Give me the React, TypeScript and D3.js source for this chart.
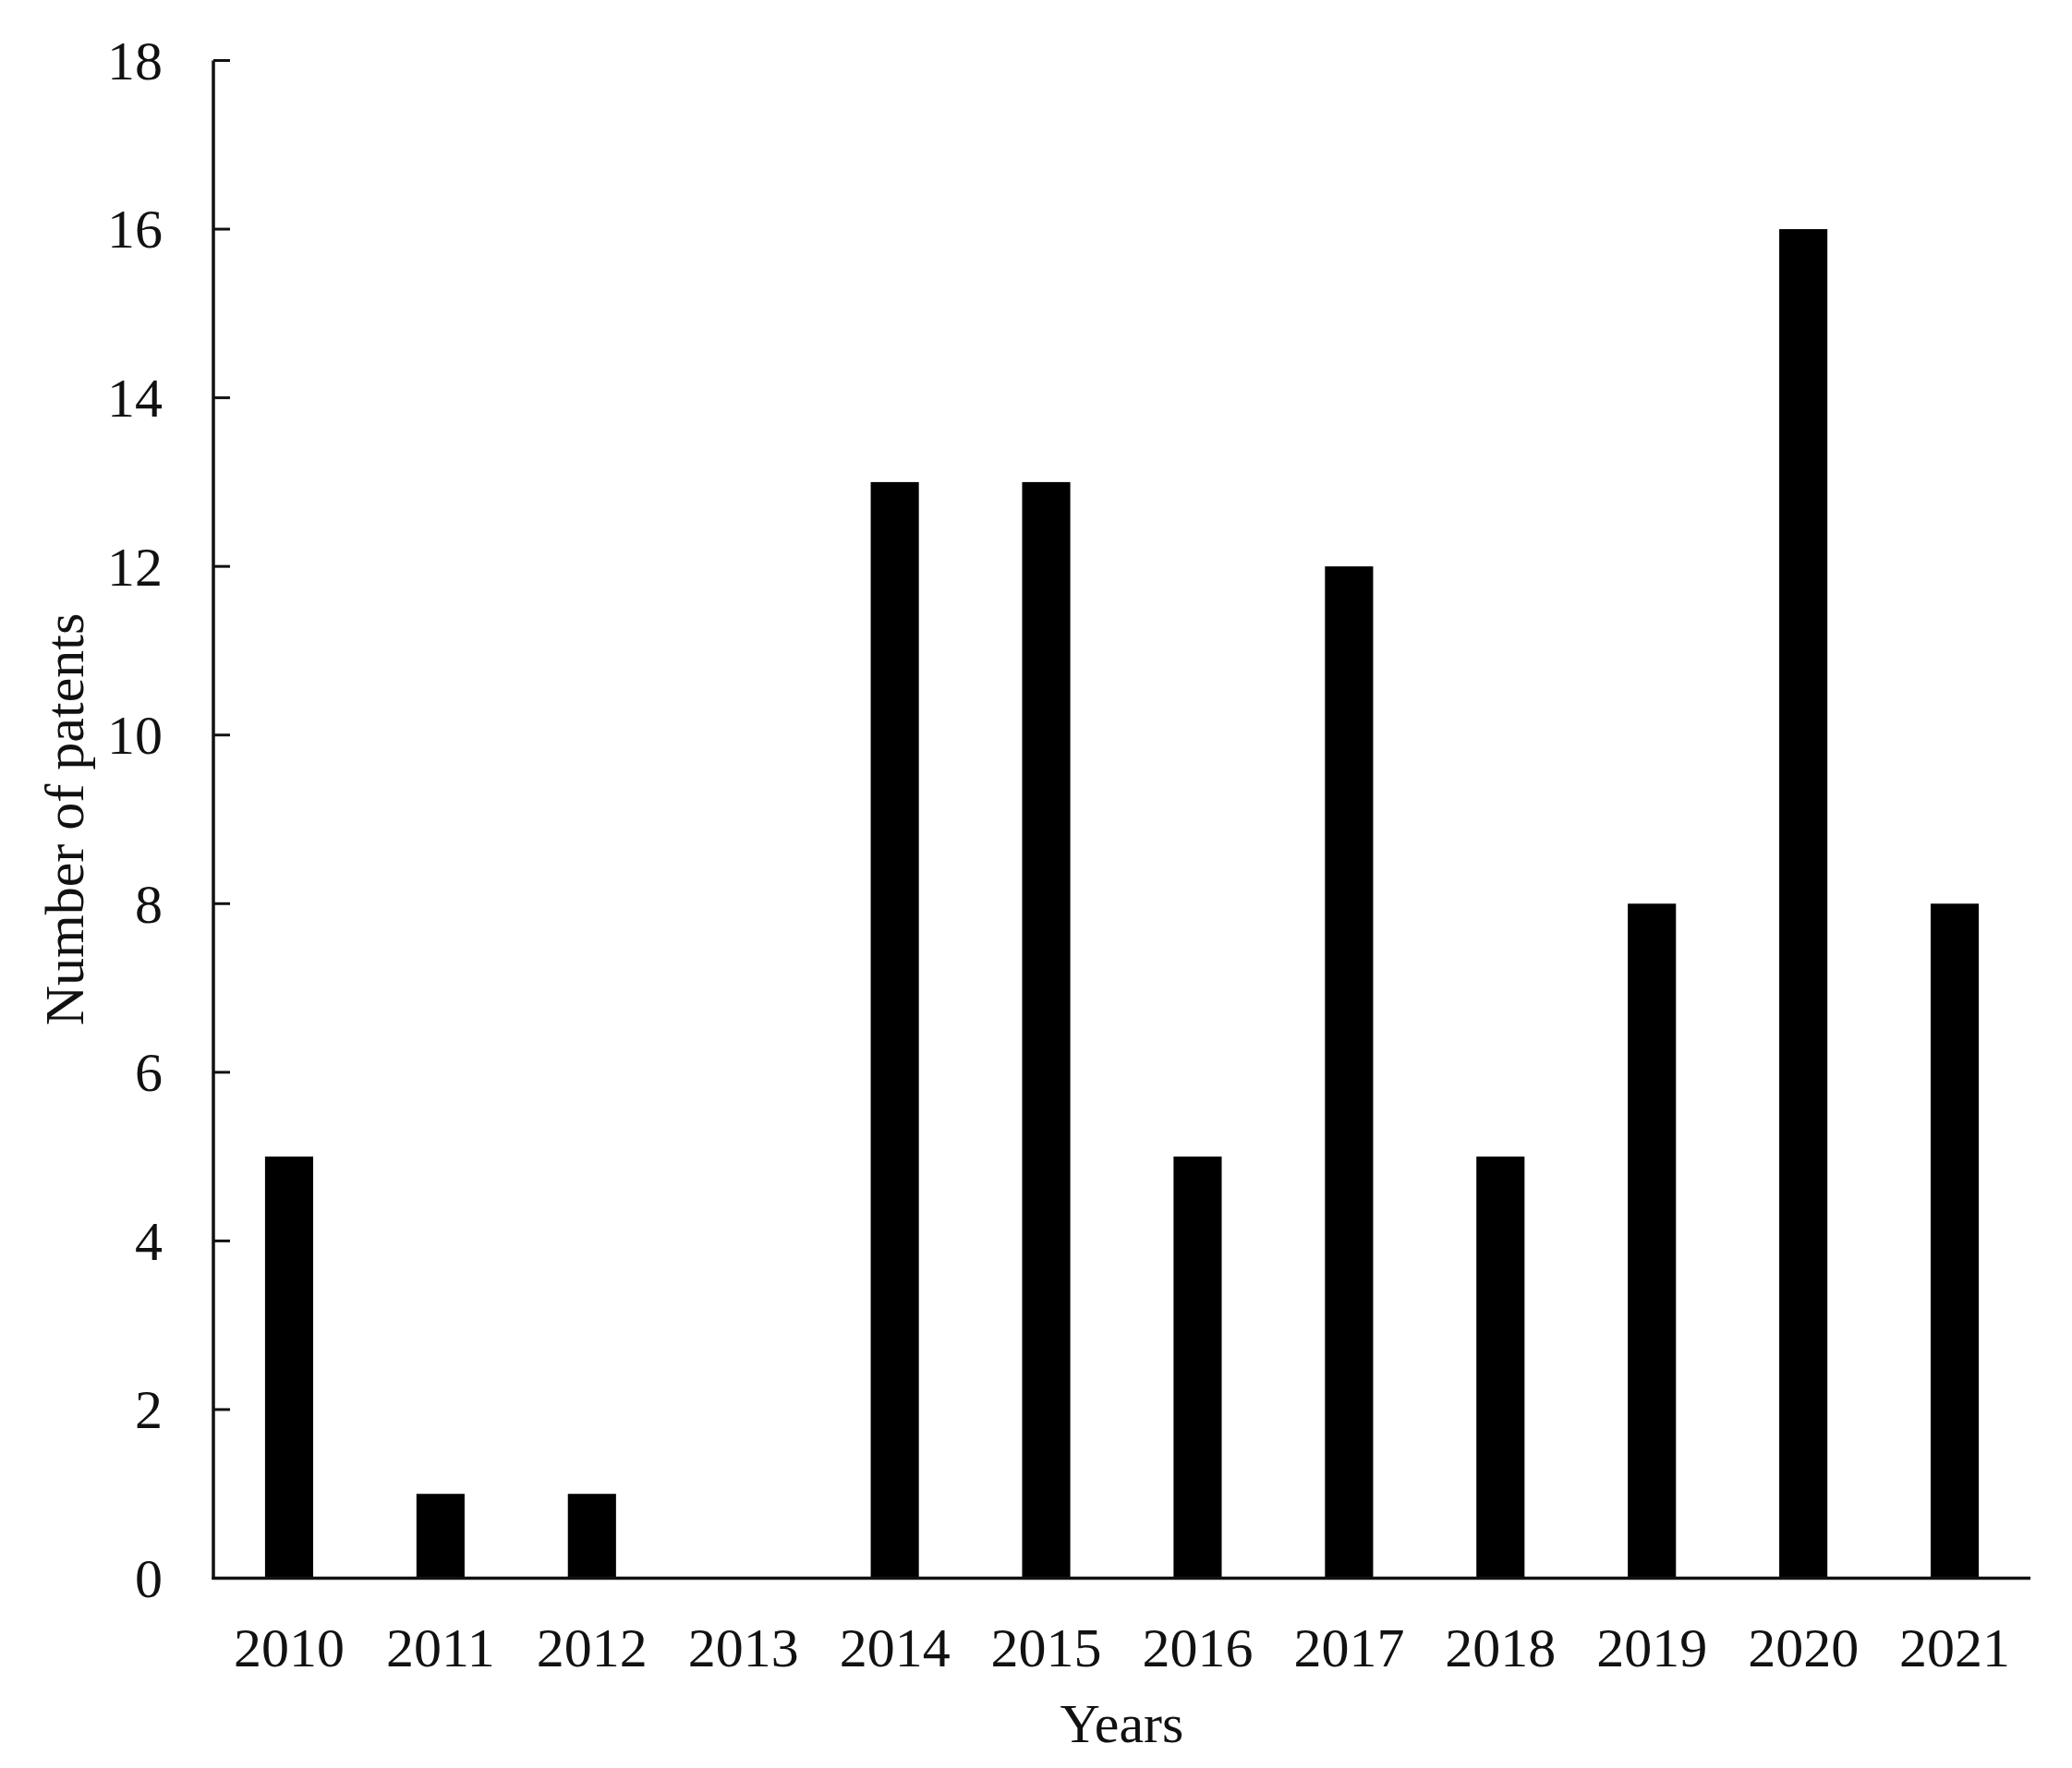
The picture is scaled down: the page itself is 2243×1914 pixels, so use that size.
import React from "react";
import * as d3 from "d3";

const years = ["2010","2011","2012","2013","2014","2015","2016","2017","2018","2019","2020","2021"];
const patents = [5, 1, 1, 0, 13, 13, 5, 12, 5, 8, 16, 8];
const yTicks = [0, 2, 4, 6, 8, 10, 12, 14, 16, 18];

const W = 2243;
const H = 1914;
const left = 231;
const right = 2198;
const top = 65.5;
const bottom = 1708.5;
const font = "'Liberation Serif', 'Times New Roman', serif";

export default function App() {
  const x = d3.scaleBand<string>().domain(years).range([left, right]).padding(0);
  const y = d3.scaleLinear().domain([0, 18]).range([bottom, top]);
  const barW = x.bandwidth() * 0.318;

  return (
    <svg width={W} height={H} style={{ position: "absolute", left: 0, top: 0, background: "#fff" }}>
      <rect x={0} y={0} width={W} height={H} fill="#fff" />
      {years.map((yr, i) => {
        const cx = (x(yr) as number) + x.bandwidth() / 2;
        return (
          <rect key={yr} x={cx - barW / 2} y={y(patents[i])} width={barW} height={bottom - y(patents[i])} fill="#000" />
        );
      })}
      {/* y axis */}
      <line x1={left} x2={left} y1={top} y2={bottom + 1.5} stroke="#111" strokeWidth={3.5} />
      {yTicks.map((t) => (
        <g key={t}>
          <line x1={left} x2={left + 18} y1={y(t)} y2={y(t)} stroke="#111" strokeWidth={3} />
          <text x={176} y={y(t)} dy="0.34em" textAnchor="end" fontFamily={font} fontSize={60} fill="#111">{t}</text>
        </g>
      ))}
      {/* x axis */}
      <line x1={left - 1.5} x2={right} y1={bottom} y2={bottom} stroke="#111" strokeWidth={3.5} />
      {years.map((yr) => (
        <text key={yr} x={(x(yr) as number) + x.bandwidth() / 2} y={1804} textAnchor="middle" fontFamily={font} fontSize={60} fill="#111">{yr}</text>
      ))}
      <text x={(left + right) / 2} y={1886} textAnchor="middle" fontFamily={font} fontSize={60} fill="#111">Years</text>
      <text transform={`translate(90, ${(top + bottom) / 2}) rotate(-90)`} textAnchor="middle" fontFamily={font} fontSize={60} fill="#111">Number of patents</text>
    </svg>
  );
}
